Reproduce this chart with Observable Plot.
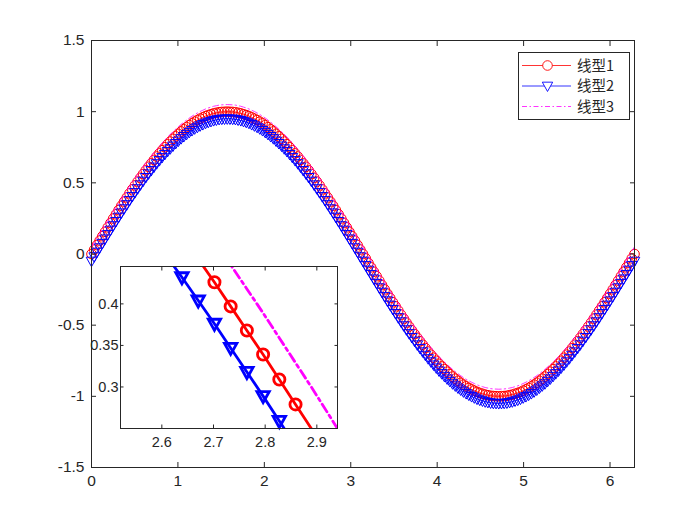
<!DOCTYPE html>
<html><head><meta charset="utf-8">
<script src="https://cdn.jsdelivr.net/npm/d3@7"></script>
<script src="https://cdn.jsdelivr.net/npm/@observablehq/plot@0.6"></script>
<style>
html,body{margin:0;padding:0;background:#fff;}
#wrap{position:relative;width:700px;height:525px;overflow:hidden;background:#fff;}
#wrap svg{position:absolute;}
#wm{position:absolute;right:15px;top:496px;font:16px 'Liberation Sans',Arial,sans-serif;color:#9c9c9c;}
</style></head><body><div id="wrap"><div id="wm">CSDN @RickyWasYoung</div></div>
<script>
// sample positions (x = 0 .. 2π, step π/100)
const xs = [0,0.0314,0.0628,0.0942,0.1257,0.1571,0.1885,0.2199,0.2513,0.2827,
0.3142,0.3456,0.3770,0.4084,0.4398,0.4712,0.5027,0.5341,0.5655,0.5969,
0.6283,0.6597,0.6912,0.7226,0.7540,0.7854,0.8168,0.8482,0.8796,0.9111,
0.9425,0.9739,1.0053,1.0367,1.0681,1.0996,1.1310,1.1624,1.1938,1.2252,
1.2566,1.2881,1.3195,1.3509,1.3823,1.4137,1.4451,1.4765,1.5080,1.5394,
1.5708,1.6022,1.6336,1.6650,1.6965,1.7279,1.7593,1.7907,1.8221,1.8535,
1.8850,1.9164,1.9478,1.9792,2.0106,2.0420,2.0735,2.1049,2.1363,2.1677,
2.1991,2.2305,2.2619,2.2934,2.3248,2.3562,2.3876,2.4190,2.4504,2.4819,
2.5133,2.5447,2.5761,2.6075,2.6389,2.6704,2.7018,2.7332,2.7646,2.7960,
2.8274,2.8588,2.8903,2.9217,2.9531,2.9845,3.0159,3.0473,3.0788,3.1102,
3.1416,3.1730,3.2044,3.2358,3.2673,3.2987,3.3301,3.3615,3.3929,3.4243,
3.4558,3.4872,3.5186,3.5500,3.5814,3.6128,3.6442,3.6757,3.7071,3.7385,
3.7699,3.8013,3.8327,3.8642,3.8956,3.9270,3.9584,3.9898,4.0212,4.0527,
4.0841,4.1155,4.1469,4.1783,4.2097,4.2412,4.2726,4.3040,4.3354,4.3668,
4.3982,4.4296,4.4611,4.4925,4.5239,4.5553,4.5867,4.6181,4.6496,4.6810,
4.7124,4.7438,4.7752,4.8066,4.8381,4.8695,4.9009,4.9323,4.9637,4.9951,
5.0265,5.0580,5.0894,5.1208,5.1522,5.1836,5.2150,5.2465,5.2779,5.3093,
5.3407,5.3721,5.4035,5.4350,5.4664,5.4978,5.5292,5.5606,5.5920,5.6235,
5.6549,5.6863,5.7177,5.7491,5.7805,5.8119,5.8434,5.8748,5.9062,5.9376,
5.9690,6.0004,6.0319,6.0633,6.0947,6.1261,6.1575,6.1889,6.2204,6.2518,
6.2832];

// 线型1
const s1 = [0,0.031,0.063,0.094,0.125,0.156,0.187,0.218,0.249,0.279,
0.309,0.339,0.368,0.397,0.426,0.454,0.482,0.509,0.536,0.562,
0.588,0.613,0.637,0.661,0.685,0.707,0.729,0.750,0.771,0.790,
0.809,0.827,0.844,0.861,0.876,0.891,0.905,0.918,0.930,0.941,
0.951,0.960,0.969,0.976,0.982,0.988,0.992,0.996,0.998,0.999,
1,
0.999,0.998,0.996,0.992,0.988,0.982,0.976,0.969,0.960,0.951,
0.941,0.930,0.918,0.905,0.891,0.876,0.861,0.844,0.827,0.809,
0.790,0.771,0.750,0.729,0.707,0.685,0.661,0.637,0.613,0.588,
0.562,0.536,0.509,0.482,0.454,0.426,0.397,0.368,0.339,0.309,
0.279,0.249,0.218,0.187,0.156,0.125,0.094,0.063,0.031,0,
-0.031,-0.063,-0.094,-0.125,-0.156,-0.187,-0.218,-0.249,-0.279,-0.309,
-0.339,-0.368,-0.397,-0.426,-0.454,-0.482,-0.509,-0.536,-0.562,-0.588,
-0.613,-0.637,-0.661,-0.685,-0.707,-0.729,-0.750,-0.771,-0.790,-0.809,
-0.827,-0.844,-0.861,-0.876,-0.891,-0.905,-0.918,-0.930,-0.941,-0.951,
-0.960,-0.969,-0.976,-0.982,-0.988,-0.992,-0.996,-0.998,-0.999,-1,
-0.999,-0.998,-0.996,-0.992,-0.988,-0.982,-0.976,-0.969,-0.960,-0.951,
-0.941,-0.930,-0.918,-0.905,-0.891,-0.876,-0.861,-0.844,-0.827,-0.809,
-0.790,-0.771,-0.750,-0.729,-0.707,-0.685,-0.661,-0.637,-0.613,-0.588,
-0.562,-0.536,-0.509,-0.482,-0.454,-0.426,-0.397,-0.368,-0.339,-0.309,
-0.279,-0.249,-0.218,-0.187,-0.156,-0.125,-0.094,-0.063,-0.031,0];

// 线型2
const s2 = [-0.05,-0.019,0.013,0.044,0.075,0.106,0.137,0.168,0.199,0.229,
0.259,0.289,0.318,0.347,0.376,0.404,0.432,0.459,0.486,0.512,
0.538,0.563,0.587,0.611,0.635,0.657,0.679,0.700,0.721,0.740,
0.759,0.777,0.794,0.811,0.826,0.841,0.855,0.868,0.880,0.891,
0.901,0.910,0.919,0.926,0.932,0.938,0.942,0.946,0.948,0.949,
0.95,
0.949,0.948,0.946,0.942,0.938,0.932,0.926,0.919,0.910,0.901,
0.891,0.880,0.868,0.855,0.841,0.826,0.811,0.794,0.777,0.759,
0.740,0.721,0.700,0.679,0.657,0.635,0.611,0.587,0.563,0.538,
0.512,0.486,0.459,0.432,0.404,0.376,0.347,0.318,0.289,0.259,
0.229,0.199,0.168,0.137,0.106,0.075,0.044,0.013,-0.019,-0.05,
-0.081,-0.113,-0.144,-0.175,-0.206,-0.237,-0.268,-0.299,-0.329,-0.359,
-0.389,-0.418,-0.447,-0.476,-0.504,-0.532,-0.559,-0.586,-0.612,-0.638,
-0.663,-0.687,-0.711,-0.735,-0.757,-0.779,-0.800,-0.821,-0.840,-0.859,
-0.877,-0.894,-0.911,-0.926,-0.941,-0.955,-0.968,-0.980,-0.991,-1.001,
-1.010,-1.019,-1.026,-1.032,-1.038,-1.042,-1.046,-1.048,-1.049,-1.05,
-1.049,-1.048,-1.046,-1.042,-1.038,-1.032,-1.026,-1.019,-1.010,-1.001,
-0.991,-0.980,-0.968,-0.955,-0.941,-0.926,-0.911,-0.894,-0.877,-0.859,
-0.840,-0.821,-0.800,-0.779,-0.757,-0.735,-0.711,-0.687,-0.663,-0.638,
-0.612,-0.586,-0.559,-0.532,-0.504,-0.476,-0.447,-0.418,-0.389,-0.359,
-0.329,-0.299,-0.268,-0.237,-0.206,-0.175,-0.144,-0.113,-0.081,-0.05];

// 线型3
const s3 = [0.05,0.081,0.113,0.144,0.175,0.206,0.237,0.268,0.299,0.329,
0.359,0.389,0.418,0.447,0.476,0.504,0.532,0.559,0.586,0.612,
0.638,0.663,0.687,0.711,0.735,0.757,0.779,0.800,0.821,0.840,
0.859,0.877,0.894,0.911,0.926,0.941,0.955,0.968,0.980,0.991,
1.001,1.010,1.019,1.026,1.032,1.038,1.042,1.046,1.048,1.049,
1.05,
1.049,1.048,1.046,1.042,1.038,1.032,1.026,1.019,1.010,1.001,
0.991,0.980,0.968,0.955,0.941,0.926,0.911,0.894,0.877,0.859,
0.840,0.821,0.800,0.779,0.757,0.735,0.711,0.687,0.663,0.638,
0.612,0.586,0.559,0.532,0.504,0.476,0.447,0.418,0.389,0.359,
0.329,0.299,0.268,0.237,0.206,0.175,0.144,0.113,0.081,0.05,
0.019,-0.013,-0.044,-0.075,-0.106,-0.137,-0.168,-0.199,-0.229,-0.259,
-0.289,-0.318,-0.347,-0.376,-0.404,-0.432,-0.459,-0.486,-0.512,-0.538,
-0.563,-0.587,-0.611,-0.635,-0.657,-0.679,-0.700,-0.721,-0.740,-0.759,
-0.777,-0.794,-0.811,-0.826,-0.841,-0.855,-0.868,-0.880,-0.891,-0.901,
-0.910,-0.919,-0.926,-0.932,-0.938,-0.942,-0.946,-0.948,-0.949,-0.95,
-0.949,-0.948,-0.946,-0.942,-0.938,-0.932,-0.926,-0.919,-0.910,-0.901,
-0.891,-0.880,-0.868,-0.855,-0.841,-0.826,-0.811,-0.794,-0.777,-0.759,
-0.740,-0.721,-0.700,-0.679,-0.657,-0.635,-0.611,-0.587,-0.563,-0.538,
-0.512,-0.486,-0.459,-0.432,-0.404,-0.376,-0.347,-0.318,-0.289,-0.259,
-0.229,-0.199,-0.168,-0.137,-0.106,-0.075,-0.044,-0.013,0.019,0.05];

const seriesNames = ["线型1", "线型2", "线型3"];
const seriesColors = ["#ff0000", "#0000ff", "#ff00ff"];
const mainXTicks = [0, 1, 2, 3, 4, 5, 6];
const mainYTicks = [-1.5, -1, -0.5, 0, 0.5, 1, 1.5];
const mainXDomain = [0, 6.2832];
const mainYDomain = [-1.5, 1.5];
const insetXTicks = [2.6, 2.7, 2.8, 2.9];
const insetYTicks = [0.3, 0.35, 0.4];
const insetXDomain = [2.52, 2.94];
const insetYDomain = [0.25, 0.445];

const data = xs.map((x, i) => ({x, a: s1[i], b: s2[i], c: s3[i]}));
const AX = "#262626";
const FONT = "'Liberation Sans', Arial, Helvetica, sans-serif";
const fmt = d => String(d);
const triDown = {draw(ctx, size) {
  const r = Math.sqrt(size / Math.PI);
  ctx.moveTo(0, r); ctx.lineTo(-0.95 * r, -0.7 * r); ctx.lineTo(0.95 * r, -0.7 * r); ctx.closePath();
}};

function seriesMarks(o) {
  const inX = d => d.x >= o.xd[0] && d.x <= o.xd[1];
  const inY = k => d => inX(d) && d[k] >= o.yd[0] && d[k] <= o.yd[1];
  return [
    Plot.line(data, {x: "x", y: "a", stroke: seriesColors[0], strokeWidth: o.lw, clip: true}),
    Plot.dot(data, {x: "x", y: "a", filter: inY("a"), r: o.cr, stroke: seriesColors[0], strokeWidth: o.mw, fill: "none"}),
    Plot.line(data, {x: "x", y: "b", stroke: seriesColors[1], strokeWidth: o.lw, clip: true}),
    Plot.dot(data, {x: "x", y: "b", filter: inY("b"), r: o.tr, symbol: triDown, stroke: seriesColors[1], strokeWidth: o.mw, fill: "none"}),
    Plot.line(data, {x: "x", y: "c", stroke: seriesColors[2], strokeWidth: o.lw, strokeDasharray: o.dash, clip: true})
  ];
}

function boxAxes(xt, yt, ts, fs, padX, padY) {
  return [
    Plot.axisX({ticks: xt, anchor: "bottom", tickSize: -ts, tickPadding: ts + padX, tickFormat: fmt, fontSize: fs, label: null, stroke: AX, fill: AX}),
    Plot.axisX({ticks: xt, anchor: "top", tickSize: -ts, tickFormat: () => "", label: null, stroke: AX}),
    Plot.axisY({ticks: yt, anchor: "left", tickSize: -ts, tickPadding: ts + padY, tickFormat: fmt, fontSize: fs, label: null, stroke: AX, fill: AX}),
    Plot.axisY({ticks: yt, anchor: "right", tickSize: -ts, tickFormat: () => "", label: null, stroke: AX})
  ];
}

const wrap = document.getElementById("wrap");

const main = Plot.plot({
  width: 700, height: 525,
  marginLeft: 91, marginRight: 66, marginTop: 40, marginBottom: 58,
  x: {domain: mainXDomain, label: null},
  y: {domain: mainYDomain, label: null},
  style: {fontFamily: FONT, color: AX, background: "white"},
  marks: [
    ...seriesMarks({xd: mainXDomain, yd: mainYDomain, lw: 0.8, cr: 4.8, tr: 5.6, mw: 1.0, dash: "6,3,1.5,3"}),
    Plot.frame({stroke: AX, strokeWidth: 1}),
    ...boxAxes(mainXTicks, mainYTicks, 5, 15.5, 7, 7)
  ]
});
main.style.left = "0px"; main.style.top = "0px";
wrap.appendChild(main);

const inset = Plot.plot({
  width: 262, height: 192,
  marginLeft: 40, marginRight: 5, marginTop: 5, marginBottom: 25,
  x: {domain: insetXDomain, label: null},
  y: {domain: insetYDomain, label: null},
  style: {fontFamily: FONT, color: AX, background: "transparent", overflow: "visible"},
  marks: [
    Plot.frame({fill: "white"}),
    ...seriesMarks({xd: insetXDomain, yd: insetYDomain, lw: 2.8, cr: 5.6, tr: 6.5, mw: 2.8, dash: "9,4,3,4"}),
    Plot.frame({stroke: AX, strokeWidth: 1}),
    ...boxAxes(insetXTicks, insetYTicks, 3.5, 14.5, 8, 2)
  ]
});
inset.style.left = "80px"; inset.style.top = "261px";
wrap.appendChild(inset);

// legend
const leg = d3.create("svg").attr("width", 112).attr("height", 68)
  .style("left", "518px").style("top", "52px");
leg.append("rect").attr("x", 0.5).attr("y", 0.5).attr("width", 111).attr("height", 67)
  .attr("fill", "white").attr("stroke", AX).attr("stroke-width", 1);
const rowY = [13.5, 34, 54.5];
seriesNames.forEach((name, i) => {
  const y = rowY[i];
  leg.append("line").attr("x1", 4).attr("x2", 53).attr("y1", y).attr("y2", y)
    .attr("stroke", seriesColors[i]).attr("stroke-width", 0.8)
    .attr("stroke-dasharray", i === 2 ? "5,2.5,1.5,2.5" : null);
  if (i === 0) leg.append("circle").attr("cx", 29.5).attr("cy", y).attr("r", 4.8)
    .attr("fill", "white").attr("stroke", seriesColors[i]).attr("stroke-width", 0.9);
  if (i === 1) leg.append("path").attr("transform", `translate(29.5,${y})`)
    .attr("d", d3.symbol(triDown, Math.PI * 30)()).attr("fill", "white")
    .attr("stroke", seriesColors[i]).attr("stroke-width", 0.9);
  leg.append("text").attr("x", 59).attr("y", y).attr("dy", "0.35em")
    .attr("font-family", "'Noto Sans CJK SC', sans-serif").attr("font-size", 14.5)
    .attr("fill", AX).text(name);
});
wrap.appendChild(leg.node());
</script></body></html>
